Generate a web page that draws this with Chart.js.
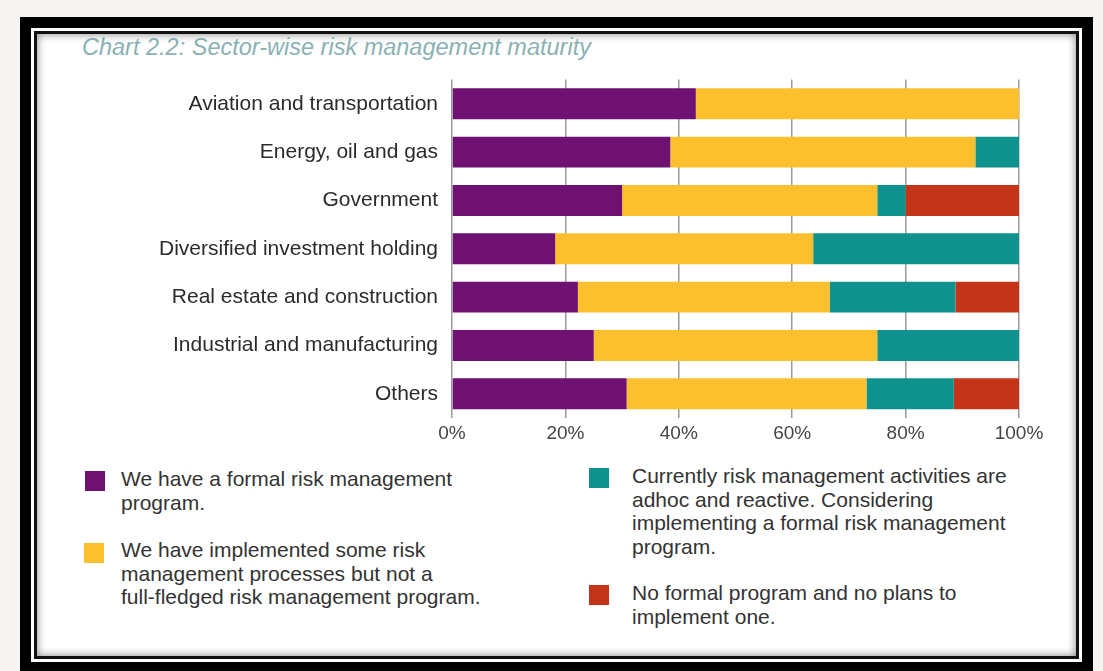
<!DOCTYPE html>
<html>
<head>
<meta charset="utf-8">
<script src="https://cdn.jsdelivr.net/npm/chart.js@4"></script>
<style>
  body { margin: 0; width: 1103px; height: 671px; background: #f6f4f3; position: relative; overflow: hidden; font-family: "Liberation Sans", Arial, sans-serif; }
  .frame { position: absolute; left: 20px; top: 17px; width: 1073px; height: 656px; box-sizing: border-box; border: 11px solid #000; padding: 3px; background: #fff; }
  .inner { height: 100%; box-sizing: border-box; border: 3px solid #111; box-shadow: inset 0 0 8px rgba(0,0,0,0.5); background: #fff; }
  #title { position: absolute; left: 82px; top: 34px; font-size: 23.5px; font-style: italic; color: #8ab1b4; white-space: nowrap; }
  #wrap { position: absolute; left: 40px; top: 53px; width: 1010px; height: 407px; }
  .leg { position: absolute; font-size: 21px; line-height: 23.5px; color: #333; white-space: pre-line; }
  .sw { position: absolute; width: 20px; height: 20px; }
</style>
</head>
<body>
<div class="frame"><div class="inner"></div></div>
<div id="title">Chart 2.2: Sector-wise risk management maturity</div>
<div id="wrap"><canvas id="chart" width="1010" height="407"></canvas></div>
<div id="legend"></div>
<script>
const sectors = ['Aviation and transportation', 'Energy, oil and gas', 'Government', 'Diversified investment holding',
  'Real estate and construction', 'Industrial and manufacturing', 'Others'];
const formalProgram = [43, 38.5, 30, 18.2, 22.2, 25, 30.8];
const someProcesses = [57, 53.8, 45, 45.5, 44.4, 50, 42.3];
const adhocReactive = [0, 7.7, 5, 36.3, 22.2, 25, 15.4];
const noPlans = [0, 0, 20, 0, 11.2, 0, 11.5];
const xTicks = [0, 20, 40, 60, 80, 100];

const seriesNames = [
  'We have a formal risk management\nprogram.',
  'We have implemented some risk\nmanagement processes but not a\nfull-fledged risk management program.',
  'Currently risk management activities are\nadhoc and reactive. Considering\nimplementing a formal risk management\nprogram.',
  'No formal program and no plans to\nimplement one.'
];
const seriesColors = ['#6e1170', '#fcc02e', '#0f928e', '#c33418'];
const seriesValues = [formalProgram, someProcesses, adhocReactive, noPlans];

const font = '"Liberation Sans", Arial, sans-serif';

const chart = new Chart(document.getElementById('chart'), {
  type: 'bar',
  data: {
    labels: sectors,
    datasets: seriesValues.map((vals, i) => ({
      label: seriesNames[i],
      data: vals,
      backgroundColor: seriesColors[i],
      borderWidth: 0,
      categoryPercentage: 0.8,
      barPercentage: 0.8
    }))
  },
  options: {
    indexAxis: 'y',
    responsive: false,
    animation: false,
    layout: { padding: { top: 0, right: 31, bottom: 12, left: 0 } },
    plugins: { legend: { display: false }, tooltip: { enabled: false } },
    scales: {
      x: {
        stacked: true,
        min: 0,
        max: 100,
        afterBuildTicks: scale => { scale.ticks = xTicks.map(v => ({ value: v })); },
        afterFit: scale => { scale.height = 30; },
        ticks: { callback: v => v + '%', color: '#454545', font: { family: font, size: 19 }, padding: 4, maxRotation: 0 },
        grid: { color: '#999', lineWidth: 1.5, drawTicks: false },
        border: { display: false }
      },
      y: {
        stacked: true,
        afterFit: scale => { scale.width = 412; },
        ticks: { color: '#2b2b2b', font: { family: font, size: 21 }, padding: 14 },
        grid: { display: false, drawTicks: false },
        border: { display: false }
      }
    }
  }
});

// legend built from the chart datasets, two columns like the original
const legendPos = [
  { sx: 85, sy: 471, tx: 121, ty: 467 },
  { sx: 84, sy: 543, tx: 121, ty: 538 },
  { sx: 589, sy: 468, tx: 632, ty: 464 },
  { sx: 589, sy: 585, tx: 632, ty: 581 }
];
const legendEl = document.getElementById('legend');
chart.data.datasets.forEach((ds, i) => {
  const p = legendPos[i];
  const sw = document.createElement('div');
  sw.className = 'sw';
  sw.style.left = p.sx + 'px';
  sw.style.top = p.sy + 'px';
  sw.style.background = ds.backgroundColor;
  legendEl.appendChild(sw);
  const tx = document.createElement('div');
  tx.className = 'leg';
  tx.style.left = p.tx + 'px';
  tx.style.top = p.ty + 'px';
  tx.textContent = ds.label;
  legendEl.appendChild(tx);
});
</script>
</body>
</html>
